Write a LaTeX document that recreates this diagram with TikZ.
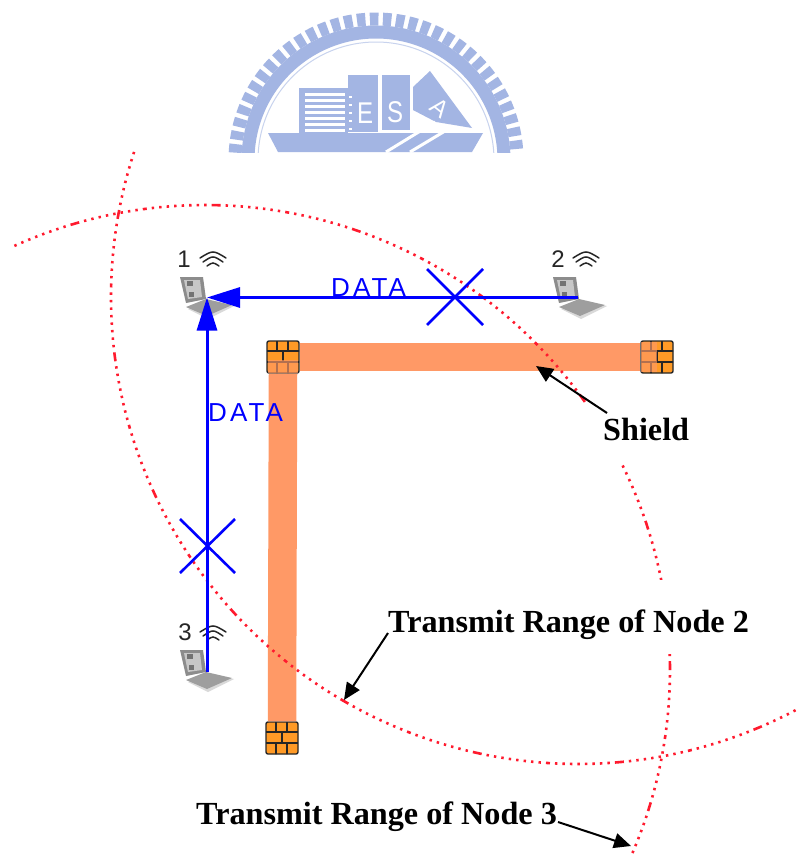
\documentclass[tikz,border=0pt]{standalone}
\usepackage{fontspec}
\setmainfont{Liberation Serif}
\setsansfont{Liberation Sans}
\newfontfamily\datafont[LetterSpace=12]{Liberation Sans}
\usetikzlibrary{arrows.meta}
\definecolor{logoblue}{HTML}{A3B5E3}
\definecolor{barorange}{HTML}{FF9966}
\definecolor{brick}{HTML}{FF9A26}
\definecolor{rangered}{HTML}{FF1A2E}
\tikzset{
  x=1pt,y=-1pt,
  shieldbar/.style={draw=barorange,line width=28.5pt},
  shieldnode/.style={draw=black!85,fill=brick,line width=1.4pt,rounded corners=2pt,
    minimum size=32pt,inner sep=0pt,
    path picture={
      \begin{scope}[shift={(path picture bounding box.center)},black!85,line width=2.5pt]
      \draw (-17,-6) -- (17,-6) (-17,5) -- (17,5);
      \draw (-6,-17) -- (-6,-6) (5,-17) -- (5,-6);
      \draw (0,-6) -- (0,5);
      \draw (-6,5) -- (-6,17) (5,5) -- (5,17);
      \end{scope}}},
  datalink/.style={draw=blue,line width=3pt,-{Triangle[length=33pt,width=20pt]}},
  crossmark/.style={draw=blue,line width=2.6pt},
  rangearc/.style={draw=rangered,line width=2.6pt,
    dash pattern=on 2.4pt off 5.1pt on 2.4pt off 5.1pt on 2.4pt off 5.1pt on 2.4pt off 5.1pt on 2.4pt off 5.1pt on 2.4pt off 5.1pt on 2.4pt off 5.1pt on 2.4pt off 5.1pt on 9pt off 5pt on 2.4pt off 5.1pt on 2.4pt off 5.1pt on 2.4pt off 5.1pt on 2.4pt off 5.1pt on 2.4pt off 5.1pt on 2.4pt off 5.1pt on 2.4pt off 5.1pt on 2.4pt off 5.1pt on 4pt off 5pt},
  callout/.style={font=\bfseries\fontsize{32.2}{36}\selectfont,anchor=base west,inner sep=0pt},
  pointer/.style={draw=black,line width=2pt,-{Triangle[length=17pt,width=15pt]}},
  datalabel/.style={font=\datafont\fontsize{26}{28}\selectfont,text=blue,anchor=base west,inner sep=0pt},
  numlabel/.style={font=\sffamily\fontsize{24}{26}\selectfont,text=black!85,inner sep=0pt},
  logoletter/.style={font=\sffamily\fontsize{30}{32}\selectfont,text=white,inner sep=0pt,xscale=.8},
  laptop/.pic={
    \fill[black!15] (8,32) -- (27,24) -- (54,29) -- (28,42) -- cycle;
    \fill[black!38] (6,30) -- (26,22) -- (52,28) -- (27,39) -- cycle;
    \fill[black!45] (0,0) -- (23,0) -- (26,22) -- (6,26) -- cycle;
    \fill[black!22] (4,3) -- (20,3) -- (22,20) -- (8,22) -- cycle;
    \fill[black!55] (7,4) rectangle (13,9);
    \fill[black!55] (9,15) rectangle (14,20);
  },
  wifi/.pic={
    \draw[black!85,line width=1.5pt,line cap=round]
      (-13,0) .. controls (0,-8) .. (13,0)
      (-10,4) .. controls (0,-2.7) .. (10,4)
      (-6,8) .. controls (0,4) .. (6,8);
  }
}
\begin{document}
\begin{tikzpicture}
\path[use as bounding box] (0,0) rectangle (800,859);
\fill[white] (0,0) rectangle (800,859);
% logo
\begin{scope}
\clip (200,0) rectangle (560,152);
\draw[logoblue,line width=13pt,dash pattern=on 8.5pt off 4.5pt]
  plot[domain=183:357,samples=120] ({376+141*cos(\x)},{160+141*sin(\x)});
\draw[logoblue,line width=13pt]
  plot[domain=180:360,samples=120] ({376+128*cos(\x)},{160+128*sin(\x)});
\draw[logoblue!60,line width=1pt]
  plot[domain=180:360,samples=120] ({376+118*cos(\x)},{160+118*sin(\x)});
\fill[logoblue] (268,133) -- (483,133) -- (472,152) -- (278,152) -- cycle;
\fill[logoblue] (299,88) rectangle (348,133);
\foreach \y in {93,99,105,111,117,123,129} \fill[white] (305,\y) rectangle (345,\y+3);
\fill[logoblue] (348,75) -- (378,75) -- (378,132) -- (348,132) -- cycle;
\foreach \y in {96,104,112,120,128} \fill[white] (349,\y) rectangle (352,\y+2);
\fill[logoblue] (382,75) rectangle (410,130);
\fill[logoblue] (413,87) -- (430,71) -- (472,128) -- (436,122) -- (413,110) -- cycle;
\draw[white,line width=3pt] (386,152) -- (435,122) (410,152) -- (450,128);
\node[logoletter] (logoE) at (365,113) {E};
\node[logoletter] (logoS) at (395,112) {S};
\node[font=\sffamily\fontsize{24}{26}\selectfont,text=white,inner sep=0pt,rotate=-38] (logoA) at (440,108) {A};
\end{scope}
% shields
\node[shieldnode] (shA) at (283,357) {};
\node[shieldnode] (shB) at (657,357) {};
\node[shieldnode] (shC) at (282,738) {};
\draw[shieldbar] (shA.east) -- (shB.west);
\draw[shieldbar] (shA.south) -- (shC.north);
\fill[barorange,opacity=.65] (268,360) rectangle (298,373);
\fill[barorange,opacity=.65] (641,342) rectangle (657,372);
% transmit ranges
\draw[rangearc] plot[domain=198.1:61.7,samples=300] ({578+467*cos(\x)},{297+467*sin(\x)});
\draw[rangearc] plot[domain=-114.2:23.8,samples=300] ({205+465*cos(\x)},{670+465*sin(\x)});
\fill[white] (583,402.5) rectangle (705,464);
\fill[white] (640,579.5) rectangle (760,654);
% laptops
\pic at (180,277) {laptop};
\pic at (553,277) {laptop};
\pic at (180,650) {laptop};
\pic at (213,258) {wifi};
\pic at (586,258) {wifi};
\pic at (213,632) {wifi};
\node[numlabel] (lab1) at (184,259) {1};
\node[numlabel] (lab2) at (558,259) {2};
\node[numlabel] (lab3) at (185,632) {3};
\coordinate (n1) at (207,297.5);
\coordinate (n2) at (578,297.5);
\coordinate (n3) at (207,672);
% data links
\draw[datalink] (n2) -- (n1);
\draw[datalink] (n3) -- (n1);
\node[datalabel] (data1) at (331,296) {DATA};
\node[datalabel] (data2) at (208,421) {DATA};
\draw[crossmark] (427,269) -- (483,325) (483,269) -- (427,325);
\draw[crossmark] (180,519) -- (235,573) (235,519) -- (180,573);
% callouts
\node[callout] (shieldtext) at (603,440) {Shield};
\node[callout] (range2) at (388,632) {Transmit Range of Node 2};
\node[callout] (range3) at (196,824) {Transmit Range of Node 3};
\coordinate (shieldtail) at (607,413);
\coordinate (shieldtip) at (536,366);
\coordinate (r2tail) at (388,633);
\coordinate (r2tip) at (344,700);
\coordinate (r3tail) at (558,822);
\coordinate (r3tip) at (631,846);
\draw[pointer] (shieldtail) -- (shieldtip);
\draw[pointer] (r2tail) -- (r2tip);
\draw[pointer] (r3tail) -- (r3tip);
\end{tikzpicture}
\end{document}
